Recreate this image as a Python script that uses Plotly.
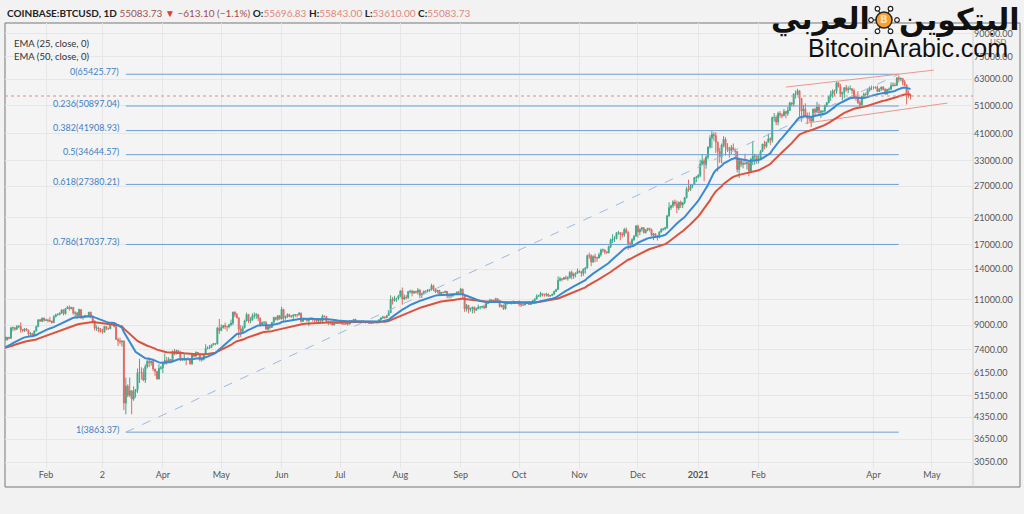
import math
import pandas as pd
import plotly.graph_objects as go

# closes 2019-11-20 .. 2020-01-10, only used to warm up the EMAs
warm_close = [8100, 7620, 7280, 7320, 6910, 7150, 7170, 7530, 7430, 7760, 7570,
              7420, 7320, 7300, 7200, 7400, 7540, 7510, 7520, 7350, 7230, 7210, 7200, 7260, 7070, 7110, 6880,
              6620, 7280, 7150, 7190, 7140, 7510, 7320, 7250, 7200, 7200, 7250, 7310, 7390, 7250, 7200,
              7200, 6960, 7340, 7350, 7360, 7760, 8160, 8040, 7820, 8190]

first_day = "2020-01-11"

# daily candles 2020-01-11 .. 2021-04-20 (open = previous close)
close = [
    8020, 8180, 8110, 8810, 8820, 8720, 8900, 8910, 8700, 8630, 8740, 8660, 8390, 8430, 8330, 8600, 8900, 9390, 9290, 9510, 9350,
    9380, 9330, 9290, 9180, 9620, 9760, 9800, 9900, 10160, 9850, 10270, 10360, 10240, 10360, 9900, 9920, 9700, 10180, 9600, 9610, 9690, 9670, 9960, 9660, 9310, 8790, 8800, 8710, 8530,
    8520, 8910, 8760, 8750, 9070, 9150, 8900, 8040, 7940, 7890, 7940, 4860, 5560, 5170, 5360, 5020, 5330, 5400, 6180, 6200, 6190, 5830, 6490, 6760, 6690, 6760, 6370, 6250, 5880, 6400, 6420,
    6650, 6810, 6740, 6870, 6780, 7330, 7200, 7370, 7300, 6860, 6890, 6920, 6850, 6870, 6630, 7110, 7040, 7260, 7130, 6850, 6860, 7140, 7490, 7510, 7540, 7700, 7790, 7760, 8790, 8620,
    8830, 8980, 8900, 8890, 9030, 9150, 9980, 9800, 9540, 8720, 8560, 8810, 9310, 9790, 9310, 9380, 9670, 9730, 9780, 9510, 9060, 9170, 9180, 8720, 8900, 8840, 9200, 9570, 9420, 9700, 9450,
    10200, 9520, 9660, 9790, 9620, 9670, 9750, 9780, 9770, 9880, 9280, 9470, 9480, 9340, 9430, 9520, 9450, 9380, 9300, 9360, 9290, 9680, 9630, 9290, 9240, 9170, 9010, 9120, 9190, 9140,
    9230, 9090, 9070, 9130, 9080, 9340, 9250, 9430, 9240, 9290, 9240, 9300, 9240, 9250, 9200, 9130, 9150, 9170, 9210, 9160, 9390, 9540, 9610, 9550, 9710, 9930, 11030, 10930, 11110, 11120, 11350,
    11800, 11070, 11230, 11190, 11750, 11770, 11600, 11760, 11680, 11880, 11400, 11570, 11780, 11770, 11860, 11910, 12300, 11960, 11740, 11860, 11520, 11680, 11650, 11760, 11330, 11460, 11330, 11530, 11480, 11710, 11680,
    11970, 11410, 10240, 10520, 10170, 10260, 10380, 10130, 10240, 10370, 10400, 10440, 10330, 10680, 10790, 10960, 10950, 10940, 11090, 10920, 10420, 10540, 10240, 10740, 10690, 10730, 10780, 10700, 10840, 10780,
    10620, 10570, 10550, 10670, 10790, 10600, 10670, 10920, 11060, 11300, 11380, 11550, 11430, 11420, 11510, 11330, 11370, 11510, 11750, 11920, 12820, 12990, 12940, 13120, 13030, 13070, 13650, 13280, 13460, 13560, 13800,
    13760, 13550, 14030, 14150, 15590, 15580, 14840, 15480, 15330, 15300, 15700, 16290, 16330, 16070, 15960, 16720, 17660, 17800, 17820, 18680, 18710, 18420, 18370, 19160, 18720, 17150, 17140, 17720, 18180, 19700,
    18790, 19220, 19450, 18700, 19150, 19360, 19170, 18320, 18550, 18250, 18030, 18800, 19170, 19270, 19440, 21340, 22800, 23130, 23840, 23480, 22730, 23820, 23250, 23720, 24660, 26440, 26250, 27040, 27360, 28890, 28990,
    29390, 32190, 33000, 31990, 33990, 36820, 39470, 40670, 40240, 38240, 35540, 34000, 37390, 39150, 36830, 36070, 35820, 36640, 36010, 35550, 30820, 33010, 32100, 32290, 32270, 32510, 30420, 33420, 34270, 34320, 33110,
    33540, 35510, 37670, 36980, 38290, 39260, 38880, 46450, 46480, 44840, 47990, 47380, 47120, 48720, 47940, 49170, 52150, 51680, 55890, 55900, 57410, 54090, 48890, 49680, 47070, 46280, 46100, 45140,
    49630, 48380, 50530, 48370, 48760, 48880, 51020, 52300, 54880, 55870, 57330, 57200, 61170, 59240, 55880, 56780, 58850, 57870, 58230, 58320, 57540, 54480, 54350, 52300, 51330, 55030, 55850, 55780, 57610, 58770, 58760,
    58700, 58950, 57060, 58200, 59120, 58020, 55950, 58080, 58090, 59770, 60000, 59830, 63580, 62980, 63220, 61380, 60060, 56270, 55696.83, 55083.73,
]
high = [
    8290, 8190, 8200, 8880, 8900, 8840, 9000, 9010, 9200, 8740, 8780, 8790, 8680, 8520, 8450, 8610, 8970, 9420, 9440, 9560, 9560,
    9460, 9470, 9610, 9340, 9740, 9860, 9880, 9950, 10170, 10180, 10300, 10480, 10520, 10400, 10380, 10050, 9970, 10250, 10200, 9720, 9760, 9720, 10000, 10020, 9700, 9340, 8980, 8900, 8800,
    8750, 8950, 8920, 8840, 9150, 9190, 9200, 8900, 8160, 8150, 7970, 7970, 5950, 5640, 5950, 5380, 5550, 5440, 6390, 6900, 6450, 6400, 6600, 6850, 6980, 6790, 6870, 6370, 6270, 6610, 6520,
    6720, 7200, 7000, 6990, 6890, 7360, 7460, 7410, 7370, 7320, 6950, 7190, 6930, 6980, 6940, 7200, 7150, 7310, 7270, 7200, 6950, 7170, 7740, 7620, 7700, 7720, 7800, 7810, 8880, 9450,
    9060, 9010, 9190, 8960, 9100, 9400, 10000, 10040, 9910, 9580, 9000, 8960, 9400, 9940, 9840, 9580, 9890, 9950, 9900, 9840, 9570, 9270, 9310, 9300, 8980, 9020, 9220, 9620, 9600, 9740, 9730,
    10420, 10230, 9690, 9880, 9850, 9730, 9800, 9800, 9800, 9990, 9950, 9540, 9500, 9490, 9540, 9590, 9540, 9480, 9390, 9400, 9420, 9790, 9720, 9670, 9310, 9280, 9190, 9170, 9220, 9200,
    9300, 9270, 9130, 9190, 9140, 9370, 9380, 9450, 9440, 9310, 9310, 9340, 9350, 9290, 9270, 9230, 9200, 9200, 9240, 9230, 9420, 9560, 9690, 9620, 9740, 10100, 11400, 11250, 11350, 11180, 11440,
    11860, 12120, 11480, 11420, 11790, 11900, 11920, 11810, 11800, 12070, 11950, 11620, 11800, 11850, 11980, 11990, 12480, 12400, 12030, 11890, 11880, 11700, 11710, 11820, 11790, 11550, 11590, 11560, 11600, 11720, 11790,
    12090, 11990, 11470, 10640, 10570, 10350, 10410, 10430, 10350, 10590, 10420, 10480, 10580, 10800, 10940, 11100, 11040, 11030, 11180, 11100, 10990, 10580, 10580, 10780, 10770, 10780, 10820, 10950, 10860, 10850,
    10950, 10670, 10600, 10690, 10800, 10800, 10690, 11000, 11120, 11490, 11440, 11720, 11550, 11550, 11630, 11550, 11400, 11510, 11820, 12000, 13230, 13190, 13030, 13170, 13330, 13240, 13790, 13860, 13630, 13670, 14080,
    13900, 13830, 14070, 14240, 15740, 15970, 15770, 15650, 15840, 15460, 15960, 16480, 16490, 16330, 16160, 16880, 17860, 18480, 18190, 18780, 18960, 18750, 18770, 19410, 19480, 18920, 17460, 17880, 18340, 19870,
    19920, 19310, 19570, 19530, 19170, 19410, 19420, 19300, 18640, 18550, 18270, 18920, 19410, 19340, 19560, 21540, 23770, 23300, 24170, 24290, 24100, 23840, 24100, 23790, 24790, 26870, 28420, 27410, 27390, 28990, 29300,
    29680, 33300, 34800, 33650, 34460, 36930, 40400, 41950, 41350, 41400, 38400, 36600, 37850, 40100, 39750, 37950, 36850, 37400, 37850, 36400, 35600, 33830, 33600, 33000, 34880, 32940, 32560, 33780, 38600, 34900, 34330,
    34700, 35980, 37700, 38700, 38300, 40950, 39750, 46800, 48150, 47300, 48700, 48900, 48050, 49700, 49000, 50600, 52600, 52500, 56300, 57550, 58350, 57500, 54200, 51350, 52000, 48350, 48400, 46700,
    49800, 50200, 52600, 51800, 49400, 49200, 51450, 52400, 54900, 57400, 58100, 58000, 61800, 61600, 60600, 56900, 58950, 60100, 59450, 59900, 58600, 58400, 55800, 57200, 53200, 55100, 56600, 56600, 58400, 59400, 59800,
    59500, 59450, 59800, 58500, 59300, 59500, 58650, 58150, 58900, 61300, 61300, 61200, 63800, 64850, 63800, 63550, 62500, 60450, 57550, 55843,
]
low = [
    7970, 7970, 8050, 8100, 8580, 8620, 8670, 8800, 8480, 8510, 8520, 8580, 8270, 8260, 8250, 8300, 8570, 8860, 9240, 9220, 9250,
    9300, 9200, 9230, 9110, 9160, 9580, 9710, 9720, 9860, 9730, 9790, 10220, 10100, 10220, 9780, 9600, 9460, 9650, 9450, 9400, 9580, 9600, 9630, 9500, 9220, 8620, 8590, 8500, 8520,
    8410, 8500, 8650, 8670, 8740, 8990, 8850, 8010, 7630, 7740, 7600, 4600, 4450, 5090, 5100, 4450, 4950, 5070, 5270, 5700, 5850, 5780, 5700, 6390, 6460, 6530, 6260, 6030, 5870, 5860, 6330,
    6160, 6590, 6590, 6690, 6710, 6770, 7100, 7140, 7150, 6770, 6780, 6790, 6560, 6820, 6590, 6590, 6980, 7040, 7100, 6760, 6750, 6810, 7110, 7440, 7460, 7520, 7680, 7680, 7730, 8400,
    8620, 8760, 8710, 8570, 8780, 8920, 9000, 9600, 9510, 8120, 8200, 8550, 8780, 9260, 9150, 9130, 9330, 9480, 9470, 9300, 8900, 8940, 9070, 8700, 8640, 8700, 8830, 9110, 9340, 9330, 9410,
    9420, 9260, 9400, 9530, 9590, 9560, 9460, 9610, 9570, 9710, 9170, 9240, 9350, 9240, 8930, 9380, 9260, 9220, 9220, 9190, 9270, 9270, 9580, 9220, 9000, 9040, 8990, 8990, 9090, 9080,
    9090, 9030, 9050, 9050, 8970, 9060, 9210, 9230, 9160, 9150, 9200, 9180, 9200, 9120, 9140, 9080, 9100, 9120, 9130, 9140, 9150, 9280, 9450, 9470, 9520, 9680, 9900, 10600, 10850, 10830, 10970,
    11230, 10580, 10970, 11030, 11080, 11560, 11300, 11540, 11550, 11460, 11150, 11160, 11500, 11630, 11680, 11710, 11820, 11780, 11600, 11570, 11510, 11380, 11560, 11600, 11130, 11120, 11140, 11280, 11440, 11480, 11560,
    11540, 11190, 10000, 10020, 9880, 10010, 9880, 9900, 10080, 10220, 10200, 10270, 10220, 10300, 10630, 10700, 10800, 10790, 10900, 10800, 10370, 10350, 10150, 10200, 10590, 10640, 10600, 10650, 10640, 10690,
    10450, 10390, 10500, 10540, 10640, 10560, 10570, 10650, 10820, 11040, 11250, 11230, 11300, 11280, 11290, 11250, 11260, 11330, 11420, 11700, 11900, 12710, 12730, 12900, 12900, 12800, 13060, 12930, 12980, 13130, 13550,
    13600, 13210, 13290, 13530, 14100, 15200, 14350, 14710, 14810, 14860, 15270, 15470, 15990, 15770, 15820, 15870, 16560, 17220, 17360, 17750, 18400, 17610, 18000, 18090, 18570, 16330, 16500, 16880, 17520, 18180,
    18000, 18330, 18880, 18580, 18570, 18920, 18900, 18200, 17630, 17920, 17570, 17900, 18710, 19000, 19050, 19290, 21230, 22360, 22750, 23070, 21820, 22360, 22720, 22700, 23450, 24500, 25820, 25990, 26590, 27340, 27850,
    28700, 29000, 31950, 28100, 31000, 33400, 36300, 36500, 38700, 35100, 30300, 32500, 32400, 36700, 34400, 35400, 33850, 34800, 35900, 33400, 30100, 28800, 31400, 31100, 31950, 30800, 29200, 30000, 31900, 32000, 32200,
    32300, 33430, 35370, 36160, 36600, 38120, 37400, 38100, 45000, 43800, 43700, 46400, 46200, 47000, 46200, 47100, 48900, 50900, 50800, 54000, 55500, 46500, 44900, 46900, 46900, 44100, 45000, 43100,
    45000, 47100, 48100, 47500, 46300, 47100, 48300, 50450, 51900, 53000, 54300, 55100, 56100, 59000, 54600, 53250, 54200, 57000, 56300, 57800, 56000, 53700, 53000, 51700, 50400, 51300, 53900, 54700, 54900, 57000, 57700,
    57900, 58400, 56900, 56850, 57400, 57500, 55500, 55700, 57000, 57900, 59400, 59400, 59800, 61300, 62000, 60000, 59600, 51500, 54200, 53610,
]

# fibonacci retracement drawn from the March 2020 low to the April 2021 high
fib_start, fib_end = "2020-03-13", "2021-04-14"
fib_ratio = ["0", "0.236", "0.382", "0.5", "0.618", "0.786", "1"]
fib_price = [65425.77, 50897.04, 41908.93, 34644.57, 27380.21, 17037.73, 3863.37]

# rising channel drawn over Feb-Apr 2021
chan_up_x, chan_up_y = ["2021-02-15", "2021-05-02"], [59100, 67600]
chan_lo_x, chan_lo_y = ["2021-02-25", "2021-05-09"], [44400, 52100]
last_price = 55083.73

y_ticks = [3050, 3650, 4350, 5150, 6150, 7400, 9000, 11000, 14000, 17000, 21000,
           27000, 33000, 41000, 51000, 63000, 75000, 90000]
x_ticks = ["2020-02-01", "2020-03-01", "2020-04-01", "2020-05-01", "2020-06-01", "2020-07-01",
           "2020-08-01", "2020-09-01", "2020-10-01", "2020-11-01", "2020-12-01", "2021-01-01",
           "2021-02-01", "2021-04-01", "2021-05-01"]
x_labels = ["Feb", "2", "Apr", "May", "Jun", "Jul", "Aug", "Sep", "Oct", "Nov", "Dec",
            "<b>2021</b>", "Feb", "Apr", "May"]

n = min(len(close), len(high), len(low))
close, high, low = close[:n], high[:n], low[:n]
days = pd.date_range(first_day, periods=n, freq="D")
opens = [warm_close[-1]] + close[:-1]

all_close = pd.Series(warm_close + close)
ema25 = all_close.ewm(span=25, adjust=False).mean().iloc[len(warm_close):]
ema50 = all_close.ewm(span=50, adjust=False).mean().iloc[len(warm_close):]

fig = go.Figure()

# fib levels
for r, p in zip(fib_ratio, fib_price):
    fig.add_trace(go.Scatter(x=[fib_start, fib_end], y=[p, p], mode="lines",
                             line=dict(color="#6f9fd2", width=1), hoverinfo="skip"))
fig.add_trace(go.Scatter(x=[fib_start, fib_end], y=[fib_price[-1], fib_price[0]], mode="lines",
                         line=dict(color="#9bbbe0", width=1, dash="dash"), hoverinfo="skip"))

fig.add_trace(go.Scatter(x=chan_up_x, y=chan_up_y, mode="lines", line=dict(color="#e89890", width=1)))
fig.add_trace(go.Scatter(x=chan_lo_x, y=chan_lo_y, mode="lines", line=dict(color="#e89890", width=1)))

fig.add_trace(go.Candlestick(
    x=days, open=opens, high=high, low=low, close=close,
    increasing=dict(line=dict(color="#3fa98a", width=1), fillcolor="#3fa98a"),
    decreasing=dict(line=dict(color="#df6a62", width=1), fillcolor="#df6a62"),
    whiskerwidth=0,
))

fig.add_trace(go.Scatter(x=days, y=ema50, mode="lines", line=dict(color="#d9533f", width=2)))
fig.add_trace(go.Scatter(x=days, y=ema25, mode="lines", line=dict(color="#3a8ad0", width=2)))

fig.add_hline(y=last_price, line=dict(color="#e68a8a", width=1, dash="dot"))

# pixel -> paper helpers (plot area is x 5..973, y 23..468)
def px(x):
    return (x - 5) / 968


def py(y):
    return (468 - y) / 445


def note(x, y, text, size, color, family="Lato", xa="center"):
    return dict(x=px(x), y=py(y), xref="paper", yref="paper", text=text, showarrow=False,
                xanchor=xa, yanchor="middle", font=dict(size=size, color=color, family=family))


ann = []
for r, p in zip(fib_ratio, fib_price):
    ann.append(dict(x=fib_start, y=math.log10(p), xref="x", yref="y", text=f"{r}({p:.2f})",
                    showarrow=False, xanchor="right", yanchor="middle", xshift=-5, yshift=3,
                    font=dict(size=9, color="#3f80c2", family="Lato")))

title = ("<b>COINBASE:BTCUSD, 1D</b> <span style='color:#a05050'>55083.73</span> "
         "<span style='color:#e03c3c'>▼</span> <span style='color:#a05050'>−613.10 (−1.1%)</span> "
         "<b>O:</b><span style='color:#e0877c'>55696.83</span> <b>H:</b><span style='color:#e0877c'>55843.00</span> "
         "<b>L:</b><span style='color:#e0877c'>53610.00</span> <b>C:</b><span style='color:#e0877c'>55083.73</span>")
ann.append(note(5, 13, title, 10, "#222", xa="left"))
ann.append(note(12, 44, "EMA (25, close, 0)", 9.5, "#333", xa="left"))
ann.append(note(12, 56, "EMA (50, close, 0)", 9.5, "#333", xa="left"))
ann.append(note(998, 42, "USD", 8, "#777"))

# watermark logo
ann.append(note(872, 19, "<b>العربي</b>", 30, "#111", "DejaVu Sans", xa="right"))
ann.append(note(897, 19, "<b>البتكوين</b>", 30, "#111", "DejaVu Sans", xa="left"))
ann.append(note(908, 48, "BitcoinArabic.com", 25, "#111", "Liberation Sans"))
ann.append(note(884, 20, "<b>B</b>", 10, "#fde3b0", "DejaVu Sans"))

shapes = []
cx, cy = 884, 20
for k in range(6):
    a = math.radians(60 * k)
    nx, ny = cx + 13 * math.cos(a), cy + 13 * math.sin(a)
    shapes.append(dict(type="line", xref="paper", yref="paper", x0=px(cx), y0=py(cy), x1=px(nx), y1=py(ny),
                       line=dict(color="#222", width=1.2)))
    shapes.append(dict(type="circle", xref="paper", yref="paper", x0=px(nx - 2.3), x1=px(nx + 2.3),
                       y0=py(ny + 2.3), y1=py(ny - 2.3), fillcolor="#ffffff", line=dict(color="#222", width=1.2)))
shapes.append(dict(type="circle", xref="paper", yref="paper", x0=px(cx - 8), x1=px(cx + 8),
                   y0=py(cy + 8), y1=py(cy - 8), fillcolor="#f5a030", line=dict(color="#222", width=1.5)))

# panel frame and price scale separator
shapes.append(dict(type="rect", xref="paper", yref="paper", x0=px(5), x1=px(1020), y0=py(487), y1=py(23),
                   line=dict(color="#777", width=1), layer="below"))
shapes.append(dict(type="line", xref="paper", yref="paper", x0=1, x1=1, y0=py(487), y1=py(23),
                   line=dict(color="#d0d0d0", width=1), layer="below"))

fig.update_layout(
    width=1024, height=514,
    margin=dict(l=5, r=51, t=23, b=46),
    paper_bgcolor="#f2f2f2", plot_bgcolor="#f4f4f4",
    showlegend=False,
    annotations=ann, shapes=shapes,
    xaxis=dict(range=["2020-01-10 22:30", "2021-05-22 02:30"], rangeslider=dict(visible=False),
               tickvals=x_ticks, ticktext=x_labels, showgrid=True, gridcolor="#e6e6e6",
               zeroline=False, ticks="", tickfont=dict(size=9, color="#555", family="Lato")),
    yaxis=dict(type="log", side="right", range=[math.log10(2910), math.log10(98100)],
               tickvals=y_ticks, ticktext=[f"{v:.2f}" for v in y_ticks],
               showgrid=True, gridcolor="#e6e6e6", zeroline=False, ticks="",
               tickfont=dict(size=9, color="#555", family="Lato")),
)

fig.write_html("out.html", config={"displayModeBar": False},
               post_script="document.body.style.margin='0';")
